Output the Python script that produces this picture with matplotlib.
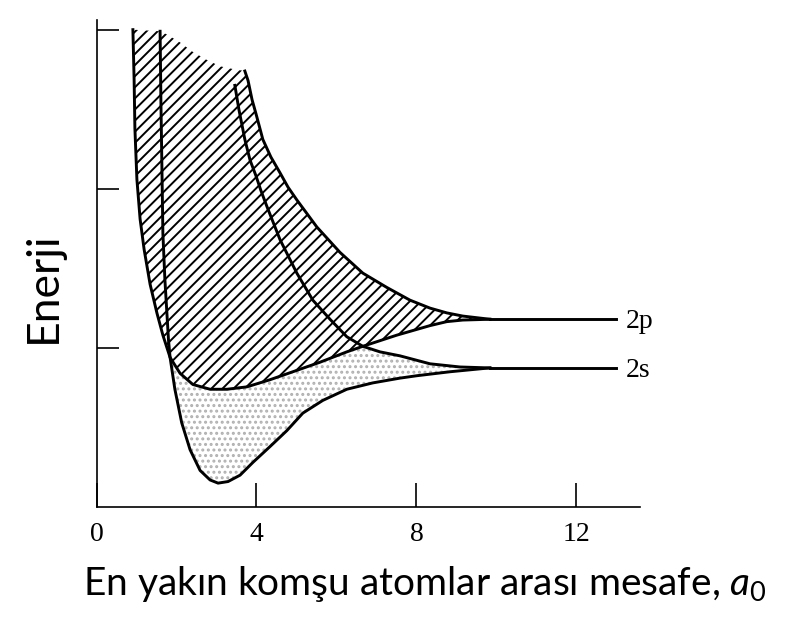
import matplotlib
matplotlib.use("Agg")
import matplotlib.pyplot as plt

# energy band edges vs nearest-neighbour distance (a0), energy in arbitrary units
# values
p_low_a = [0.91, 0.94, 0.96, 1.01, 1.09, 1.19, 1.34, 1.51, 1.66, 1.84, 2.09, 2.41, 2.84,
           3.26, 3.76, 4.34, 4.91, 5.59, 6.26, 6.66, 7.51, 8.34, 8.76, 9.16, 9.84]
p_low_E = [3.00, 2.69, 2.38, 2.06, 1.81, 1.62, 1.40, 1.22, 1.08, 0.94, 0.84, 0.77, 0.74,
           0.74, 0.755, 0.80, 0.85, 0.91, 0.975, 1.01, 1.08, 1.14, 1.165, 1.175, 1.18]

p_up_a = [3.71, 3.79, 3.89, 3.99, 4.16, 4.36, 4.59, 4.79, 5.01, 5.51, 6.09, 6.66, 7.26, 7.84,
          8.34, 8.76, 9.16, 9.84]
p_up_E = [2.74, 2.68, 2.56, 2.47, 2.31, 2.20, 2.10, 2.01, 1.93, 1.76, 1.60, 1.47, 1.38, 1.30,
          1.25, 1.22, 1.20, 1.18]

s_up_a = [3.46, 3.56, 3.71, 3.84, 3.99, 4.11, 4.26, 4.59, 5.01, 5.41, 5.84, 6.26, 6.66, 7.09,
          7.59, 8.34, 9.09, 9.84]
s_up_E = [2.65, 2.50, 2.31, 2.18, 2.08, 1.99, 1.89, 1.68, 1.47, 1.30, 1.18, 1.07, 1.01, 0.975,
          0.95, 0.90, 0.88, 0.874]

s_low_a = [1.59, 1.61, 1.64, 1.66, 1.71, 1.76, 1.80, 1.84, 1.96, 2.13, 2.34, 2.59, 2.84, 3.04,
           3.29, 3.59, 3.91, 4.34, 4.76, 5.16, 5.66, 6.26, 6.91, 7.59, 8.01, 8.84, 9.66, 9.84]
s_low_E = [2.99, 2.56, 2.06, 1.72, 1.43, 1.22, 1.05, 0.94, 0.74, 0.53, 0.36, 0.23, 0.17, 0.15,
           0.16, 0.20, 0.28, 0.38, 0.48, 0.59, 0.67, 0.74, 0.78, 0.81, 0.825, 0.85, 0.87, 0.874]

# ragged top edge of the hatched 2p band (right to left)
top_a = [3.71, 3.46, 3.09, 2.76, 2.41, 2.09, 1.76, 1.59, 0.91]
top_E = [2.74, 2.75, 2.77, 2.81, 2.86, 2.92, 2.97, 2.99, 3.00]

# isolated-atom levels
level_a = [9.84, 13.0]
level_E = {'2p': 1.18, '2s': 0.874}

xticks = [0, 4, 8, 12]
yticks = [1, 2, 3]

plt.rcParams['hatch.linewidth'] = 1.4
plt.rcParams['mathtext.fontset'] = 'custom'
plt.rcParams['mathtext.rm'] = 'Lato'
plt.rcParams['mathtext.it'] = 'Lato:italic'

fig = plt.figure(figsize=(7.95, 6.25), dpi=100)
ax = fig.add_axes([0.1214, 0.1888, 0.684, 0.779])

# 2s band: stippled
s_poly_a = s_low_a + s_up_a[::-1]
s_poly_E = s_low_E + s_up_E[::-1]
ax.fill(s_poly_a, s_poly_E, facecolor='white', edgecolor='#b0b0b0', hatch='...', lw=0, zorder=1)

# 2p band: hatched, drawn over the 2s band where they overlap
p_poly_a = p_low_a + p_up_a[::-1] + top_a
p_poly_E = p_low_E + p_up_E[::-1] + top_E
ax.fill(p_poly_a, p_poly_E, facecolor='white', edgecolor='black', hatch='///', lw=0, zorder=2)

lw = 2.1
for xs, ys in [(p_low_a, p_low_E), (p_up_a, p_up_E), (s_up_a, s_up_E), (s_low_a, s_low_E)]:
    ax.plot(xs, ys, color='black', lw=lw, zorder=3, solid_joinstyle='round')

for name, e in level_E.items():
    ax.plot(level_a, [e, e], color='black', lw=lw, zorder=3)
    ax.annotate(name, (level_a[-1], e), xytext=(7, -6.5), textcoords='offset points',
                va='baseline', ha='left', fontsize=20, family='Liberation Serif')

ax.set_xlim(0, 13.6)
ax.set_ylim(0, 3.06)
ax.spines['top'].set_visible(False)
ax.spines['right'].set_visible(False)
ax.spines['left'].set_linewidth(1.2)
ax.spines['bottom'].set_linewidth(1.2)

ax.set_xticks(xticks)
ax.set_xticklabels([str(t) for t in xticks], family='Liberation Serif', fontsize=20)
ax.set_yticks(yticks)
ax.set_yticklabels([])
ax.tick_params(axis='x', direction='in', length=17, width=1.2, pad=11)
ax.tick_params(axis='y', direction='in', length=16, width=1.2)

fig.text(0.054, 1 - 287 / 625, 'Enerji', rotation=90, ha='center', va='center',
         family='Lato', fontsize=32)
fig.text(425 / 795, 1 - 584 / 625, 'En yakın komşu atomlar arası mesafe, $a_0$',
         ha='center', va='center', family='Lato', fontsize=28)

fig.savefig('out.png', dpi=100)
